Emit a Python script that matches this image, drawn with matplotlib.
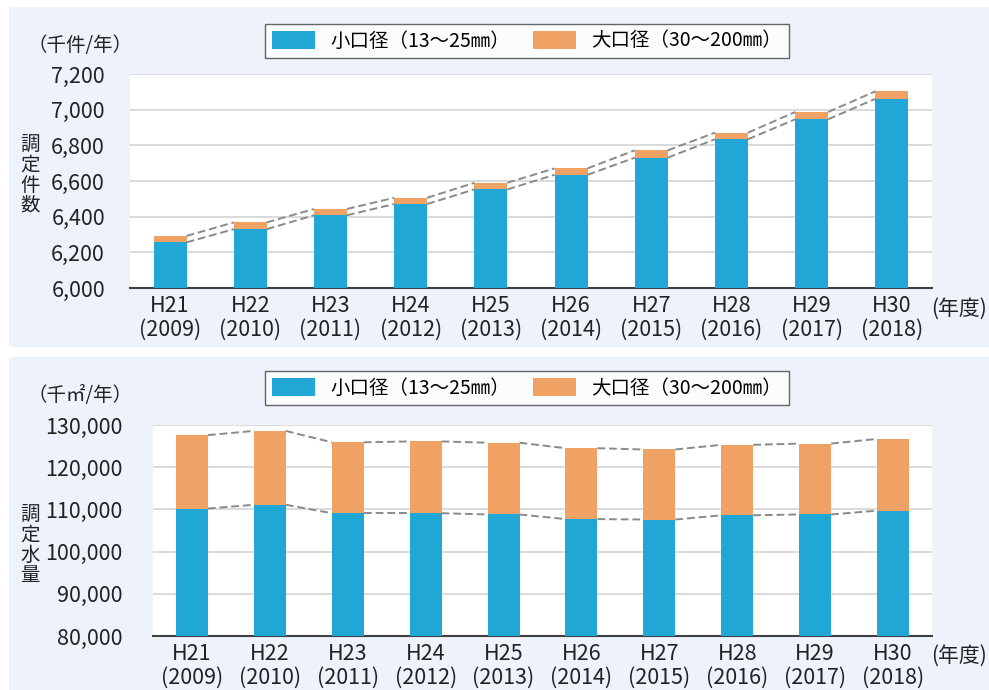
import matplotlib.pyplot as plt
from matplotlib.patches import Rectangle

plt.rcParams['font.family'] = ['Noto Sans CJK JP', 'DejaVu Sans']

years = ['H21\n(2009)', 'H22\n(2010)', 'H23\n(2011)', 'H24\n(2012)', 'H25\n(2013)',
         'H26\n(2014)', 'H27\n(2015)', 'H28\n(2016)', 'H29\n(2017)', 'H30\n(2018)']
legend_labels = ['小口径（13～25㎜）', '大口径（30～200㎜）']

# 調定件数 (千件/年)
count_small = [6256, 6330, 6408, 6471, 6553, 6635, 6731, 6834, 6946, 7061]
count_large = [36, 38, 35, 35, 37, 36, 41, 37, 41, 42]
count_ticks = [6000, 6200, 6400, 6600, 6800, 7000, 7200]

# 調定水量 (千㎡/年)
vol_small = [110200, 111100, 109100, 109100, 108800, 107700, 107600, 108600, 108800, 109700]
vol_large = [17400, 17500, 16800, 17000, 17000, 16800, 16600, 16700, 16800, 17000]
vol_ticks = [80000, 90000, 100000, 110000, 120000, 130000]

BLUE = '#20A7D5'
ORANGE = '#EFA263'
PANEL = '#EDF2FB'
W, H = 989, 690

fig = plt.figure(figsize=(W / 100, H / 100), dpi=100)
fig.patch.set_facecolor('white')


def px_axes(left, top, right, bottom):
    return fig.add_axes([left / W, 1 - bottom / H, (right - left) / W, (bottom - top) / H])


def panel(top, bottom):
    fig.patches.append(Rectangle((9 / W, 1 - bottom / H), (W - 9) / W, (bottom - top) / H,
                                 transform=fig.transFigure, facecolor=PANEL,
                                 edgecolor='none', zorder=-10))


def draw(ax, small, large, ticks, ylabel_unit, ylabel_v, pad, ly, uy, vy):
    x = list(range(len(years)))
    total = [s + l for s, l in zip(small, large)]
    bw = 0.41
    ax.bar(x, small, bw, color=BLUE, label=legend_labels[0], zorder=3)
    ax.bar(x, large, bw, bottom=small, color=ORANGE, label=legend_labels[1], zorder=3)
    for series in (small, total):
        for i in range(len(x) - 1):
            ax.plot([x[i] + bw / 2, x[i + 1] - bw / 2], [series[i], series[i + 1]],
                    color='#8A8A8A', lw=1.4, ls=(0, (4, 2)), zorder=4)
    ax.set_xlim(-0.5, len(x) - 0.5)
    ax.set_ylim(ticks[0], ticks[-1])
    ax.set_yticks(ticks)
    ax.set_yticklabels([f'{t:,}' for t in ticks])
    ax.set_xticks(x)
    ax.set_xticklabels(years, linespacing=1.1)
    ax.tick_params(axis='y', length=0, pad=pad, labelsize=15.5, labelcolor='#222222')
    ax.tick_params(axis='x', length=0, pad=5, labelsize=15.5, labelcolor='#222222')
    ax.grid(axis='y', color='#D4D4D4', lw=1.2, zorder=0)
    ax.set_axisbelow(True)
    for s in ('top', 'right', 'left'):
        ax.spines[s].set_visible(False)
    ax.spines['bottom'].set_color('#404040')
    ax.spines['bottom'].set_linewidth(1.5)
    ax.set_facecolor('white')
    leg = fig.legend(loc='center', bbox_to_anchor=(527 / W, 1 - ly / H), ncol=2,
                     fontsize=14, frameon=True, fancybox=False, edgecolor='#404040',
                     handlelength=2.2, handleheight=1.1, columnspacing=1.2,
                     borderpad=0.35, handles=ax.get_legend_handles_labels()[0])
    leg.get_frame().set_linewidth(1.0)
    fig.text(80 / W, 1 - uy / H, ylabel_unit, fontsize=14, ha='center', va='center',
             color='#222222')
    fig.text(30 / W, 1 - vy / H, '\n'.join(ylabel_v), fontsize=14, ha='center',
             va='center', linespacing=0.95, color='#222222')
    return ax


panel(7, 347)
panel(357, 690)

ax1 = px_axes(130, 74, 932, 288)
draw(ax1, count_small, count_large, count_ticks, '（千件/年）', '調定件数', 18, 41, 45, 175)
fig.text(931 / W, 1 - 309 / H, '(年度)', fontsize=15, ha='left', va='center',
         color='#222222')

ax2 = px_axes(153, 425, 932, 636)
draw(ax2, vol_small, vol_large, vol_ticks, '（千㎡/年）', '調定水量', 22, 388, 395, 545)
fig.text(931 / W, 1 - 656 / H, '(年度)', fontsize=15, ha='left', va='center',
         color='#222222')

fig.savefig('out.png', dpi=100, facecolor='white')
